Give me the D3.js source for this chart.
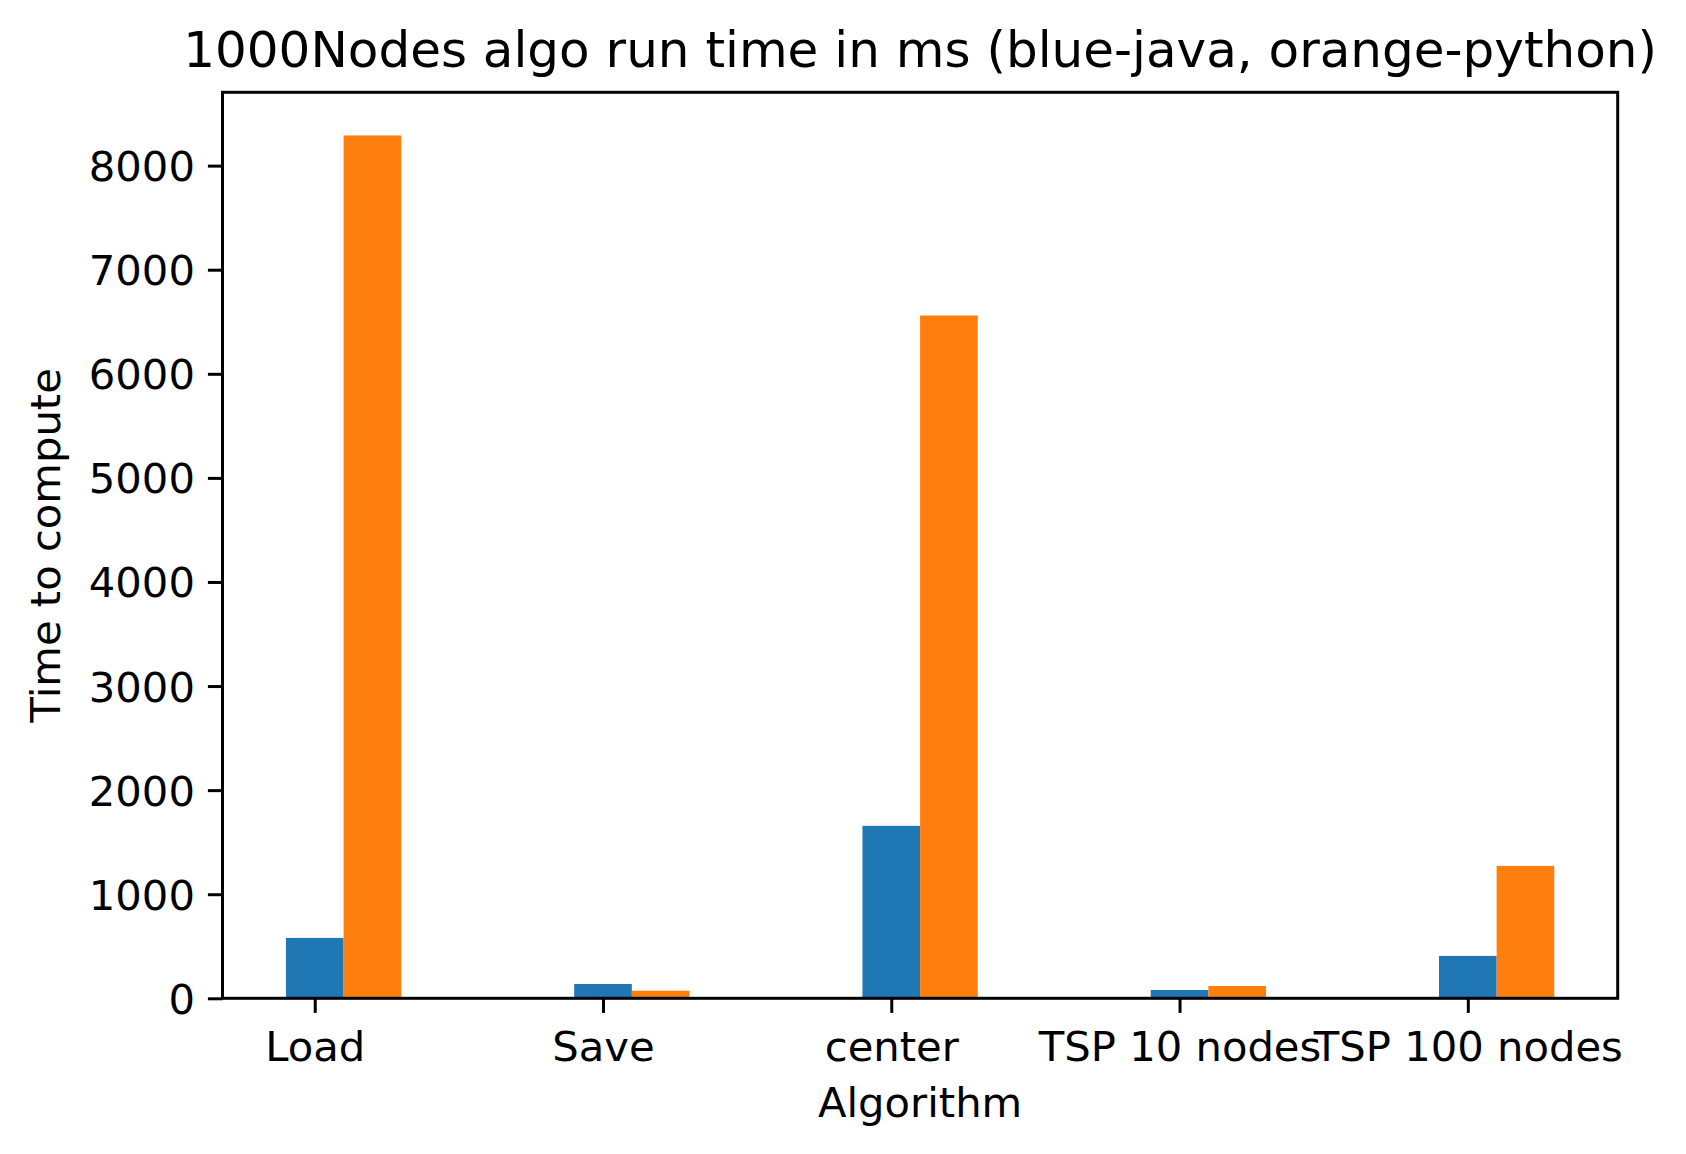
<!DOCTYPE html>
<head>
    <style>
            body {
                margin: 0;
                background: white;
                font-family: "DejaVu Sans", sans-serif;
            }
            text {
                fill: #000;
            }
    </style>
</head>
<body>
</body>
<script src="https://d3js.org/d3.v7.min.js"></script>
<script>
var categories = ["Load", "Save", "center", "TSP 10 nodes", "TSP 100 nodes"];
var javaTimes = [580, 137, 1657, 80, 407];
var pythonTimes = [8290, 73, 6560, 118, 1272];
var yTicks = [0, 1000, 2000, 3000, 4000, 5000, 6000, 7000, 8000];

var W = 1686, H = 1154;
var plot = {left: 222.5, top: 92.3, right: 1617.7, bottom: 998.3};
var barWidth = 0.2;
var tickFont = 41.7, titleFont = 50;

var svg = d3.select("body").append("svg")
    .attr("width", W)
    .attr("height", H);

svg.append("rect").attr("width", W).attr("height", H).attr("fill", "white");

// matplotlib style limits: 5% margin around the bars
var xmin = -barWidth / 2, xmax = categories.length - 1 + barWidth * 1.5;
var xpad = (xmax - xmin) * 0.05;
var x = d3.scaleLinear()
    .domain([xmin - xpad, xmax + xpad])
    .range([plot.left, plot.right]);

var ymax = d3.max(javaTimes.concat(pythonTimes)) * 1.05;
var y = d3.scaleLinear()
    .domain([0, ymax])
    .range([plot.bottom, plot.top]);

var series = [
    {values: javaTimes, color: "#1f77b4", offset: 0},
    {values: pythonTimes, color: "#ff7f0e", offset: barWidth}
];

series.forEach(function(s) {
    svg.append("g").selectAll("rect")
        .data(s.values)
        .enter().append("rect")
        .attr("x", function(d, i) { return x(i + s.offset - barWidth / 2); })
        .attr("width", function(d, i) { return x(i + s.offset + barWidth / 2) - x(i + s.offset - barWidth / 2); })
        .attr("y", function(d) { return y(d); })
        .attr("height", function(d) { return y(0) - y(d); })
        .attr("fill", s.color);
});

// y axis
var yAxis = d3.axisLeft(y)
    .tickValues(yTicks)
    .tickSize(14.6)
    .tickPadding(13)
    .tickFormat(d3.format("d"));
var gy = svg.append("g")
    .attr("transform", "translate(" + plot.left + ",0)")
    .call(yAxis);
gy.select(".domain").remove();
gy.selectAll(".tick line").attr("stroke", "#000").attr("stroke-width", 3);
gy.selectAll(".tick text")
    .attr("font-family", "DejaVu Sans")
    .attr("font-size", tickFont)
    .attr("dy", "0.36em");

// x axis
var xAxis = d3.axisBottom(x)
    .tickValues(d3.range(categories.length))
    .tickSize(14.6)
    .tickPadding(14)
    .tickFormat(function(i) { return categories[i]; });
var gx = svg.append("g")
    .attr("transform", "translate(0," + plot.bottom + ")")
    .call(xAxis);
gx.select(".domain").remove();
gx.selectAll(".tick line").attr("stroke", "#000").attr("stroke-width", 3);
gx.selectAll(".tick text")
    .attr("font-family", "DejaVu Sans")
    .attr("font-size", tickFont)
    .attr("dy", null)
    .attr("y", 63);

// frame
svg.append("rect")
    .attr("x", plot.left)
    .attr("y", plot.top)
    .attr("width", plot.right - plot.left)
    .attr("height", plot.bottom - plot.top)
    .attr("fill", "none")
    .attr("stroke", "#000")
    .attr("stroke-width", 3);

// titles
var cx = (plot.left + plot.right) / 2;
svg.append("text")
    .attr("x", cx)
    .attr("y", 67)
    .attr("text-anchor", "middle")
    .attr("font-size", titleFont)
    .text("1000Nodes algo run time in ms (blue-java, orange-python)");

svg.append("text")
    .attr("x", cx)
    .attr("y", 1117)
    .attr("text-anchor", "middle")
    .attr("font-size", tickFont)
    .text("Algorithm");

svg.append("text")
    .attr("transform", "translate(60," + (plot.top + plot.bottom) / 2 + ") rotate(-90)")
    .attr("text-anchor", "middle")
    .attr("font-size", tickFont)
    .text("Time to compute");
</script>
